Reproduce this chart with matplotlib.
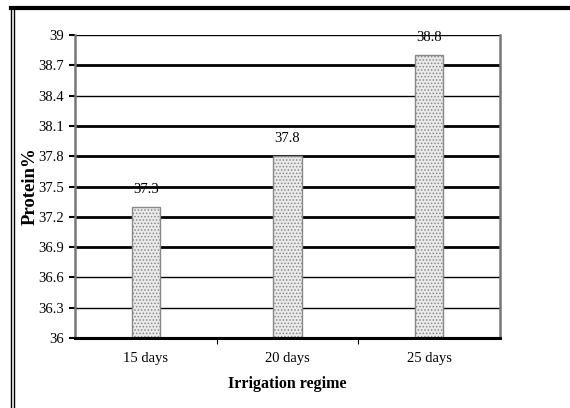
import numpy as np
import matplotlib.pyplot as plt
from matplotlib.lines import Line2D

plt.rcParams['font.family'] = ['Liberation Serif', 'DejaVu Serif']
plt.rcParams['hatch.color'] = '#5a5a5a'
plt.rcParams['hatch.linewidth'] = 0.7

# data
regimes = ['15 days', '20 days', '25 days']
protein = [37.3, 37.8, 38.8]
yticks = [36, 36.3, 36.6, 36.9, 37.2, 37.5, 37.8, 38.1, 38.4, 38.7, 39]
ytick_labels = ['36', '36.3', '36.6', '36.9', '37.2', '37.5', '37.8', '38.1', '38.4', '38.7', '39']
grid_widths = [2.2, 1.0, 1.0, 2.0, 2.0, 2.0, 2.0, 2.0, 1.0, 2.0, 1.0]

fig = plt.figure(figsize=(5.7, 4.08), dpi=100)
ax = fig.add_axes([75/570, 1 - 338/408, 425/570, 303/408])

x = np.arange(len(regimes))
ax.set_xlim(-0.5, 2.5)
ax.set_ylim(36, 39)

# horizontal gridlines, drawn under the bars
for yv, lw in zip(yticks, grid_widths):
    ax.axhline(yv, color='black', lw=lw, zorder=1)

bars = ax.bar(x, [p - 36 for p in protein], bottom=36, width=0.2,
              color='#eaeaea', edgecolor='#888888', hatch='.....',
              linewidth=1.0, zorder=2)

for xi, p in zip(x, protein):
    ax.annotate(f'{p}', (xi, p), xytext=(0, 12.5), textcoords='offset points',
                ha='center', va='center', fontsize=10.5)

ax.set_yticks(yticks)
ax.set_yticklabels(ytick_labels, fontsize=10.5)
ax.set_xticks(x)
ax.set_xticklabels(regimes, fontsize=10.5)
ax.set_xticks([0.5, 1.5], minor=True)
ax.tick_params(axis='x', which='major', length=0, pad=10)
ax.tick_params(axis='x', which='minor', length=4, width=0.8)
ax.tick_params(axis='y', length=4, width=1.5, pad=4)

for side in ['left', 'right']:
    ax.spines[side].set_color('#777777')
    ax.spines[side].set_linewidth(1.8)
ax.spines['top'].set_visible(False)
ax.spines['bottom'].set_linewidth(2.2)

ax.set_ylabel('Protein%', fontsize=13.5, fontweight='bold', va='center')
ax.yaxis.set_label_coords(-0.106, 0.5)
ax.set_xlabel('Irrigation regime', fontsize=11.5, fontweight='bold', labelpad=8)

# page frame: double rule on the left, heavy rule across the top
fig.add_artist(Line2D([11/570, 11/570], [0, 1 - 7/408], color='black', lw=1.0))
fig.add_artist(Line2D([14/570, 14/570], [0, 1 - 10/408], color='black', lw=1.0))
fig.add_artist(Line2D([11/570, 1], [1 - 8/408, 1 - 8/408], color='black', lw=3.0))

fig.savefig('out.png', dpi=100)
